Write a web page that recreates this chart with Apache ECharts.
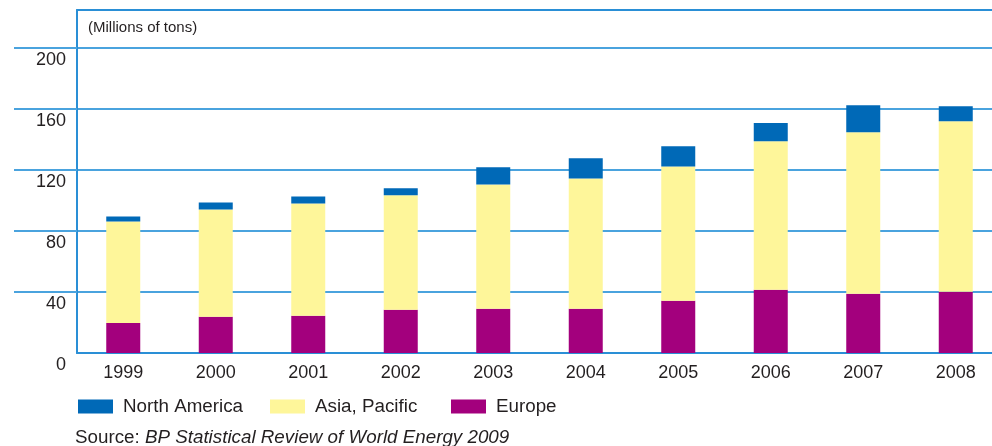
<!DOCTYPE html>
<html>
<head>
<meta charset="utf-8">
<script src="https://cdn.jsdelivr.net/npm/echarts@6/dist/echarts.min.js"></script>
<style>html,body{margin:0;padding:0;background:#fff;}#c{width:992px;height:446px;}</style>
</head>
<body>
<div id="c"></div>
<script>
const years = ['1999','2000','2001','2002','2003','2004','2005','2006','2007','2008'];
const europe = [19.7, 23.7, 24.4, 28.3, 29.0, 29.0, 34.2, 41.5, 38.8, 40.2];
const asiaPacific = [66.5, 70.4, 73.7, 75.1, 81.6, 85.5, 88.2, 97.4, 106.0, 111.9];
const northAmerica = [3.3, 4.6, 4.6, 4.6, 11.2, 13.2, 13.2, 11.9, 17.8, 9.8];
const yTickLabels = [0, 40, 80, 120, 160, 200];
const yGridTicks = [40, 80, 120, 160, 200];

const FONT = '"Liberation Sans", Arial, Helvetica, sans-serif';
const TXT = '#231f20';
const GRID = '#4aa3de';
const AXIS = '#2a8fd6';

const chart = echarts.init(document.getElementById('c'), null, {renderer: 'canvas'});
function legend(name, left) {
  return {
    data: [name], left: left, top: 397, padding: 0,
    itemWidth: 35, itemHeight: 14, icon: 'rect',
    selectedMode: false,
    textStyle: {fontFamily: FONT, fontSize: 18.8, color: TXT, padding: [0, 0, 0, 5]}
  };
}
chart.setOption({
  animation: false,
  textStyle: {fontFamily: FONT},
  title: {
    left: 75, top: 428, padding: 0,
    text: '{a|Source: }{b|BP Statistical Review of World Energy 2009}',
    textStyle: {
      fontWeight: 'normal',
      rich: {
        a: {fontFamily: FONT, fontSize: 18.8, color: TXT, fontWeight: 'normal'},
        b: {fontFamily: FONT, fontSize: 18.8, color: TXT, fontStyle: 'italic', fontWeight: 'normal'}
      }
    }
  },
  legend: [legend('North America', 78), legend('Asia, Pacific', 270), legend('Europe', 451)],
  grid: {left: 77, width: 925, top: 10, height: 343, containLabel: false, outerBoundsMode: 'none'},
  xAxis: [{
    type: 'category', data: years,
    axisLine: {lineStyle: {color: AXIS, width: 2}},
    axisTick: {show: false},
    axisLabel: {fontFamily: FONT, fontSize: 18, color: TXT, margin: 11, verticalAlign: 'top'}
  }, {
    type: 'category', data: years, position: 'top',
    axisLine: {lineStyle: {color: AXIS, width: 2}},
    axisTick: {show: false}, axisLabel: {show: false}
  }],
  yAxis: {
    type: 'value', min: 0, max: 225, interval: 40,
    name: '(Millions of tons)', nameLocation: 'end', nameGap: -18,
    nameTextStyle: {fontFamily: FONT, fontSize: 15, color: TXT, align: 'left', verticalAlign: 'middle', padding: [0, 0, 0, 11]},
    axisLine: {show: true, lineStyle: {color: AXIS, width: 2}},
    axisTick: {show: true, length: 63, customValues: yGridTicks, lineStyle: {color: GRID, width: 2}},
    axisLabel: {customValues: yTickLabels, fontFamily: FONT, fontSize: 18, color: TXT, margin: 11, verticalAlign: 'top', padding: [3, 0, 0, 0]},
    splitLine: {show: true, lineStyle: {color: GRID, width: 2}}
  },
  series: [
    {name: 'Europe', type: 'bar', stack: 't', barWidth: 34, data: europe, itemStyle: {color: '#a3007d'}},
    {name: 'Asia, Pacific', type: 'bar', stack: 't', barWidth: 34, data: asiaPacific, itemStyle: {color: '#fef69a'}},
    {name: 'North America', type: 'bar', stack: 't', barWidth: 34, data: northAmerica, itemStyle: {color: '#0069b7'}}
  ]
});
</script>
</body>
</html>
